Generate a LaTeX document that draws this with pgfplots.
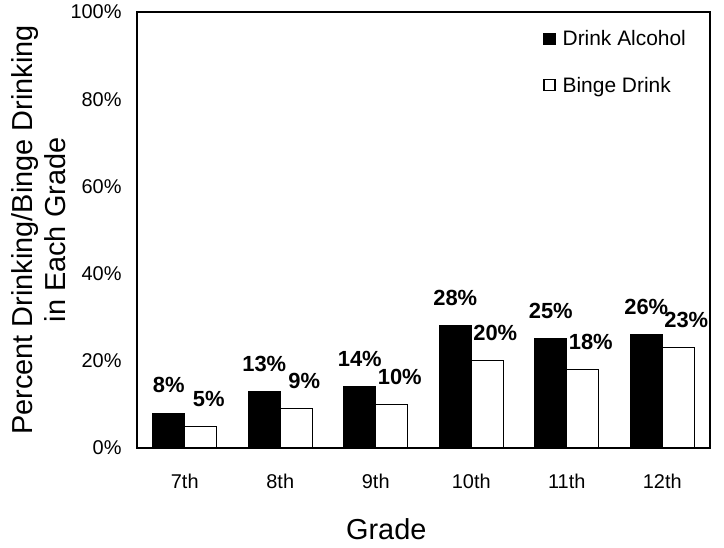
\documentclass[border=0pt]{standalone}
\usepackage{pgfplots}
\pgfplotsset{compat=1.18}
\usepackage{fontspec}
\setmainfont{Liberation Sans}

\pgfplotstableread{
x alcohol binge
0 8  5
1 13 9
2 14 10
3 28 20
4 25 18
5 26 23
}\gradedata

\begin{document}
\begin{tikzpicture}
\useasboundingbox (-137bp,-100bp) rectangle (587bp,448bp);
\begin{axis}[
    scale only axis,
    width=573bp, height=436bp,
    xmin=-0.5, xmax=5.5,
    ymin=0, ymax=100,
    ybar=0pt, bar width=32bp,
    axis line style={line width=1.3bp},
    major tick length=0pt,
    xtick=data,
    xticklabels={7th,8th,9th,10th,11th,12th},
    ytick={0,20,...,100},
    yticklabel={\pgfmathprintnumber{\tick}\%},
    /pgf/number format/assume math mode=true,
    tick label style={font=\fontsize{20}{24}\selectfont},
    xticklabel style={yshift=-23bp},
    yticklabel style={xshift=-12bp},
    xlabel={Grade},
    ylabel={Percent Drinking/Binge Drinking\\in Each Grade},
    label style={font=\fontsize{29}{33}\selectfont},
    xlabel style={at={(axis description cs:0.435,-0.186)}, anchor=center},
    ylabel style={at={(axis description cs:-0.171,0.5)}, anchor=center, align=center},
    nodes near coords={\pgfmathprintnumber{\pgfplotspointmeta}\%},
    every node near coord/.append style={font=\bfseries\fontsize{22}{24}\selectfont, yshift=16bp},
    legend style={draw=none, fill=none, at={(axis description cs:0.709,0.963)}, anchor=north west,
        font=\fontsize{21}{24}\selectfont, row sep=26bp, inner sep=0pt,
        /tikz/every odd column/.append style={column sep=5bp}},
    legend cell align=left,
    legend image code/.code={\draw[#1, line width=1.2bp] (0bp,-5.5bp) rectangle (11bp,5.5bp);},
    clip=false,
]
\addplot[draw=black, fill=black, line width=1.2bp] table[x=x, y=alcohol] {\gradedata};
\addplot[draw=black, fill=white, line width=1.2bp,
    every node near coord/.append style={xshift=8bp}] table[x=x, y=binge] {\gradedata};
\legend{Drink Alcohol, Binge Drink}
\end{axis}
\end{tikzpicture}
\end{document}
